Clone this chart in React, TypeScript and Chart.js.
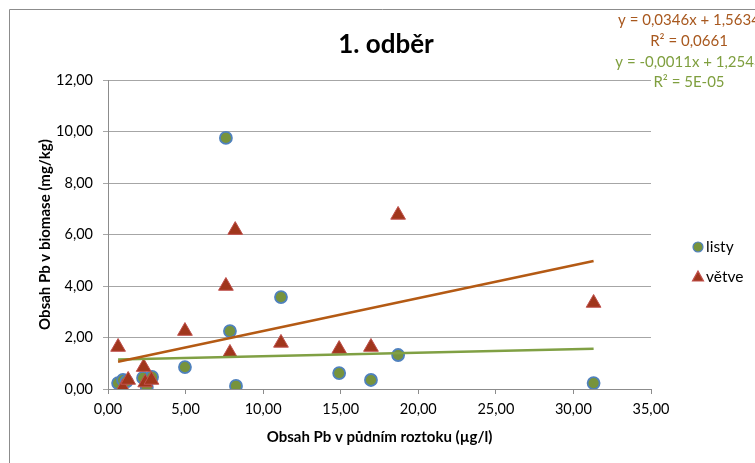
import React, { useEffect, useRef } from "react";
import { Chart, registerables } from "chart.js";

Chart.register(...registerables);

const FONT = "Lato, 'Open Sans', sans-serif";

// listy (leaves)
const listyX = [0.65, 0.97, 1.2, 2.26, 2.5, 2.84, 4.96, 7.6, 7.86, 8.25, 11.15, 14.9, 16.95, 18.7, 31.3];
const listyY = [0.23, 0.35, 0.3, 0.43, 0.08, 0.47, 0.85, 9.75, 2.25, 0.12, 3.57, 0.62, 0.35, 1.32, 0.23];
// větve (branches)
const vetveX = [0.65, 0.95, 1.3, 2.3, 2.4, 2.8, 4.96, 7.6, 7.86, 8.2, 11.15, 14.9, 16.95, 18.7, 31.3];
const vetveY = [1.63, 0.05, 0.35, 0.85, 0.25, 0.35, 2.25, 4.0, 1.4, 6.17, 1.79, 1.55, 1.63, 6.76, 3.34];

// trendlines as drawn (slope, intercept)
const listyTrend = [0.0135, 1.141];
const vetveTrend = [0.1276, 0.976];

const seriesNames = ["listy", "větve"];
const trendLabels = ["y = 0,0346x + 1,5634", "R² = 0,0661", "y = -0,0011x + 1,2543", "R² = 5E-05"];
const titleText = "1. odběr";
const xTitle = "Obsah Pb v půdním roztoku (µg/l)";
const yTitle = "Obsah Pb v biomase (mg/kg)";
const xRange = [0, 35, 5];
const yRange = [0, 12, 2];

const GREEN = "#77933C";
const BLUE = "#4F81BD";
const TRI_FILL = "#A0361C";
const TRI_BORDER = "#C0504D";
const BROWN_LINE = "#B45A14";
const GREEN_LINE = "#80A044";
const BROWN_TEXT = "#A8581E";
const GREEN_TEXT = "#7F9F3F";

function pts(xs: number[], ys: number[]) {
  return xs.map((x, i) => ({ x, y: ys[i] }));
}
function trend(xs: number[], t: number[]) {
  const lo = Math.min(...xs);
  const hi = Math.max(...xs);
  return [
    { x: lo, y: t[0] * lo + t[1] },
    { x: hi, y: t[0] * hi + t[1] },
  ];
}
const fmt = (v: number) => v.toFixed(2).replace(".", ",");

const decor = {
  id: "decor",
  beforeDraw(chart: any) {
    const ctx = chart.ctx;
    ctx.save();
    ctx.fillStyle = "#fff";
    ctx.fillRect(0, 0, chart.width, chart.height);
    ctx.strokeStyle = "#8C8C8C";
    ctx.lineWidth = 1;
    ctx.beginPath();
    ctx.moveTo(9.5, chart.height + 5);
    ctx.lineTo(9.5, 9.5);
    ctx.lineTo(chart.width + 5, 9.5);
    ctx.stroke();
    ctx.restore();
  },
  afterDraw(chart: any) {
    const ctx = chart.ctx;
    ctx.save();
    // title
    ctx.fillStyle = "#000";
    ctx.font = `bold 26px ${FONT}`;
    ctx.textAlign = "center";
    ctx.textBaseline = "middle";
    ctx.fillText(titleText, 386, 45);
    // trend labels
    ctx.font = `15px ${FONT}`;
    const ys = [20, 41, 62, 82];
    trendLabels.forEach((t, i) => {
      ctx.fillStyle = i < 2 ? BROWN_TEXT : GREEN_TEXT;
      ctx.fillText(t, 689, ys[i]);
    });
    // legend
    ctx.textAlign = "left";
    ctx.fillStyle = "#000";
    ctx.font = `15.5px ${FONT}`;
    ctx.fillText(seriesNames[0], 706, 247);
    ctx.fillText(seriesNames[1], 706, 277);
    ctx.beginPath();
    ctx.arc(698, 247, 5, 0, Math.PI * 2);
    ctx.fillStyle = GREEN;
    ctx.fill();
    ctx.strokeStyle = BLUE;
    ctx.lineWidth = 1.2;
    ctx.stroke();
    ctx.beginPath();
    ctx.moveTo(698, 271);
    ctx.lineTo(703.5, 281);
    ctx.lineTo(692.5, 281);
    ctx.closePath();
    ctx.fillStyle = TRI_FILL;
    ctx.fill();
    ctx.strokeStyle = TRI_BORDER;
    ctx.stroke();
    ctx.restore();
  },
};

export default function App() {
  const ref = useRef<HTMLCanvasElement>(null);
  useEffect(() => {
    if (!ref.current) return;
    const chart = new Chart(ref.current, {
      type: "scatter",
      data: {
        datasets: [
          {
            label: "trend větve",
            data: trend(vetveX, vetveTrend),
            showLine: true,
            borderColor: BROWN_LINE,
            borderWidth: 2.5,
            pointRadius: 0,
            order: 0,
          },
          {
            label: "trend listy",
            data: trend(listyX, listyTrend),
            showLine: true,
            borderColor: GREEN_LINE,
            borderWidth: 2.5,
            pointRadius: 0,
            order: 0,
          },
          {
            label: seriesNames[1],
            data: pts(vetveX, vetveY),
            pointStyle: "triangle",
            pointRadius: 8.5,
            backgroundColor: TRI_FILL,
            borderColor: TRI_BORDER,
            borderWidth: 1,
            order: 1,
          },
          {
            label: seriesNames[0],
            data: pts(listyX, listyY),
            pointStyle: "circle",
            pointRadius: 6,
            backgroundColor: GREEN,
            borderColor: BLUE,
            borderWidth: 1.8,
            order: 2,
          },
        ],
      },
      options: {
        animation: false,
        responsive: false,
        layout: { padding: { left: 0, right: 104, top: 80, bottom: 0 } },
        plugins: { legend: { display: false }, tooltip: { enabled: false }, title: { display: false } },
        scales: {
          x: {
            type: "linear",
            min: xRange[0],
            max: xRange[1],
            ticks: {
              stepSize: xRange[2],
              callback: (v: any) => fmt(Number(v)),
              font: { family: FONT, size: 14.5 },
              color: "#000",
              padding: 7,
            },
            grid: { drawOnChartArea: false, drawTicks: true, tickLength: 5, color: "#8C8C8C" },
            border: { display: true, color: "#8C8C8C" },
            title: {
              display: true,
              text: xTitle,
              font: { family: FONT, size: 15, weight: "bold" },
              color: "#000",
              padding: { top: 0, bottom: 17 },
            },
            afterFit: (s: any) => {
              s.height = 74;
            },
          },
          y: {
            type: "linear",
            min: yRange[0],
            max: yRange[1],
            ticks: {
              stepSize: yRange[2],
              callback: (v: any) => fmt(Number(v)),
              font: { family: FONT, size: 14.5 },
              color: "#000",
              padding: 10,
            },
            grid: { color: "#A6A6A6", tickLength: 5, drawTicks: true },
            border: { display: true, color: "#8C8C8C" },
            title: {
              display: true,
              text: yTitle,
              font: { family: FONT, size: 15, weight: "bold" },
              color: "#000",
              padding: { top: 36, bottom: 0 },
            },
            afterFit: (s: any) => {
              s.width = 108;
            },
          },
        },
      },
      plugins: [decor],
    } as any);
    return () => chart.destroy();
  }, []);
  return (
    <div style={{ position: "fixed", left: 0, top: 0, width: 755, height: 463 }}>
      <canvas ref={ref} width={755} height={463} style={{ display: "block" }} />
    </div>
  );
}
